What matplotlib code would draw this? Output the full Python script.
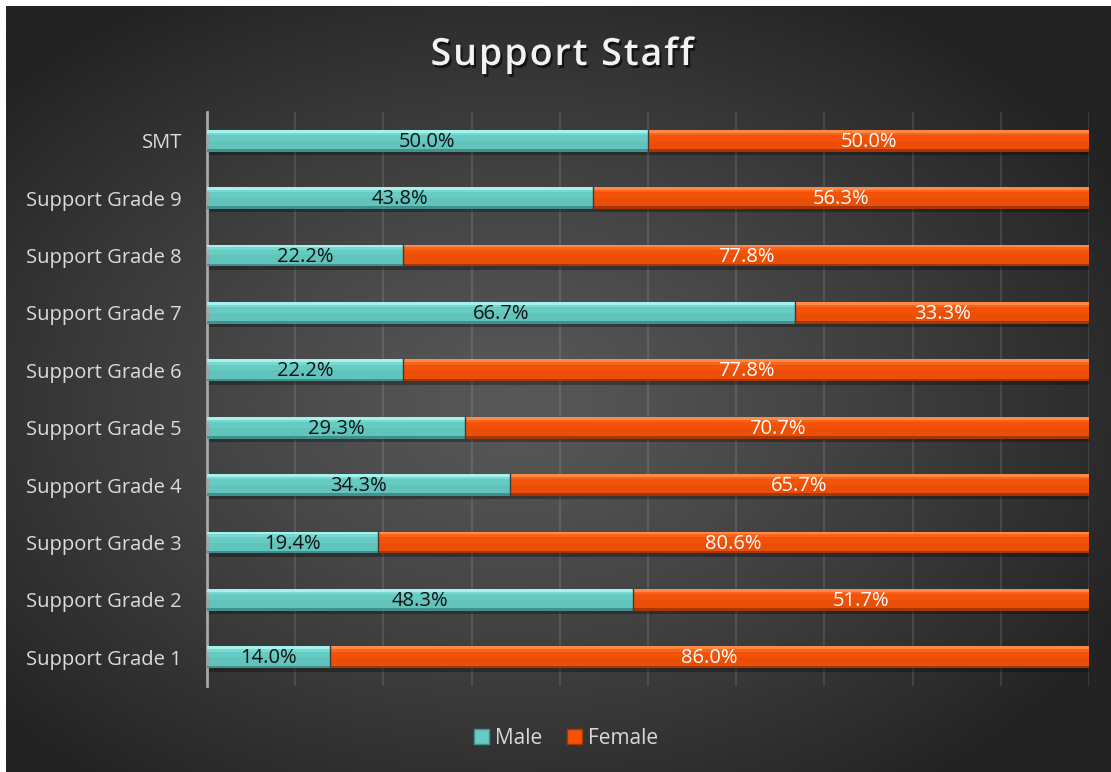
import numpy as np
import matplotlib
matplotlib.use("Agg")
import matplotlib.pyplot as plt
from matplotlib.patches import Rectangle, Patch
import matplotlib.patheffects as pe

# --------------------------
# Data
# --------------------------
categories = ["Support Grade 1", "Support Grade 2", "Support Grade 3", "Support Grade 4",
              "Support Grade 5", "Support Grade 6", "Support Grade 7", "Support Grade 8",
              "Support Grade 9", "SMT"]
male = [14.0, 48.3, 19.4, 34.3, 29.3, 22.2, 66.7, 22.2, 43.8, 50.0]
female = [86.0, 51.7, 80.6, 65.7, 70.7, 77.8, 33.3, 77.8, 56.3, 50.0]
series_names = ["Male", "Female"]
chart_title = "Support Staff"

MALE_C = "#66cbc3"
MALE_HI = "#a3f3ec"
MALE_LO = "#3f918b"
FEM_C = "#f45208"
FEM_HI = "#ff8a45"
FEM_LO = "#a83604"

W, H = 1111, 772
plt.rcParams['font.family'] = ['Open Sans', 'DejaVu Sans']

fig = plt.figure(figsize=(W / 100, H / 100), dpi=100)
fig.patch.set_facecolor("white")

# --------------------------
# Radial gradient background panel
# --------------------------
bg = fig.add_axes([6 / W, 0, (W - 6) / W, (H - 6) / H], zorder=-10)
gx, gy = np.meshgrid(np.linspace(0, 1, 400), np.linspace(0, 1, 300))
r = np.sqrt(((gx - 0.46) / 0.62) ** 2 + ((gy - 0.52) / 0.62) ** 2)
r = np.clip(r, 0, 1)
c_in = np.array([0x58, 0x58, 0x58]) / 255
c_out = np.array([0x23, 0x23, 0x23]) / 255
img = c_in[None, None, :] * (1 - r[..., None] ** 1.2) + c_out[None, None, :] * (r[..., None] ** 1.2)
bg.imshow(img, aspect="auto", extent=[0, 1, 0, 1], interpolation="bilinear")
bg.axis("off")

# --------------------------
# Bar axes
# --------------------------
ax = fig.add_axes([207 / W, (H - 686) / H, 882 / W, 574 / H])
ax.patch.set_alpha(0)
ax.set_xlim(0, 100)
ax.set_ylim(-0.5, len(categories) - 0.5)

for x in np.arange(10, 101, 10):
    ax.axvline(x, color="white", alpha=0.13, lw=1.2, zorder=0)

bh = 0.38
ys = np.arange(len(categories))


def bevel_bar(y, left, width, face, hi, lo):
    # drop shadow
    ax.add_patch(Rectangle((left + 0.1, y - bh / 2 - 0.06), width, bh, color="black",
                           alpha=0.3, lw=0, zorder=1))
    ax.add_patch(Rectangle((left, y - bh / 2), width, bh, color=face, lw=0, zorder=2))
    ax.add_patch(Rectangle((left, y + bh / 2 - 0.05), width, 0.05, color=hi, lw=0, zorder=3))
    ax.add_patch(Rectangle((left, y + bh / 2 - 0.09), width, 0.04, color=hi, alpha=0.35,
                           lw=0, zorder=3))
    ax.add_patch(Rectangle((left, y - bh / 2), width, 0.045, color=lo, lw=0, zorder=3))
    ax.add_patch(Rectangle((left, y - bh / 2 + 0.045), width, bh / 2 - 0.045, color=lo,
                           alpha=0.12, lw=0, zorder=3))


for y, m, f in zip(ys, male, female):
    bevel_bar(y, 0, m, MALE_C, MALE_HI, MALE_LO)
    bevel_bar(y, m, min(f, 100 - m), FEM_C, FEM_HI, FEM_LO)
    ax.plot([m, m], [y - bh / 2, y + bh / 2], color="#3a3a3a", lw=1, zorder=4)
    ax.text(m / 2, y - 0.02, f"{m:.1f}%", ha="center", va="center", fontsize=14.5,
            color="#111111", zorder=5)
    ax.text(m + min(f, 100 - m) / 2, y - 0.02, f"{f:.1f}%", ha="center", va="center",
            fontsize=14.5, color="white", zorder=5)

ax.set_yticks(ys)
ax.set_yticklabels(categories, fontsize=14.5, color="#dcdcdc")
ax.tick_params(axis="y", length=0, pad=18)
ax.set_xticks([])
for s in ["top", "right", "bottom"]:
    ax.spines[s].set_visible(False)
ax.spines["left"].set_color("#a8a8a8")
ax.spines["left"].set_linewidth(2)

# --------------------------
# Title (letter-spaced) and legend
# --------------------------
renderer = fig.canvas.get_renderer()
tkw = dict(fontsize=27, fontweight="semibold", color="#f2f2f2", va="center", ha="left",
           path_effects=[pe.withSimplePatchShadow(offset=(1.5, -2), shadow_rgbFace="black",
                                                  alpha=0.6)])
spacing = 2.0  # extra pixels between letters
widths = []
for i in range(len(chart_title)):
    # advance width of each prefix keeps kerning/spaces correct
    t = fig.text(0, 0, chart_title[:i + 1] + "|", **tkw)
    bar_t = fig.text(0, 0, "|", **tkw)
    widths.append(t.get_window_extent(renderer).width - bar_t.get_window_extent(renderer).width)
    t.remove()
    bar_t.remove()
total = widths[-1] + spacing * (len(chart_title) - 1)
x0 = 562 - total / 2
for i, ch in enumerate(chart_title):
    start = (widths[i - 1] if i > 0 else 0) + spacing * i
    fig.text((x0 + start) / W, 1 - 55 / H, ch, **tkw)

handles = [Patch(facecolor=MALE_C, edgecolor=MALE_LO, lw=1),
           Patch(facecolor=FEM_C, edgecolor=FEM_LO, lw=1)]
leg = fig.legend(handles, series_names, loc="center", bbox_to_anchor=(566 / W, 1 - 738 / H),
                 ncol=2, frameon=False, fontsize=15, handlelength=0.7, handleheight=0.7,
                 handletextpad=0.3, columnspacing=1.2)
for t in leg.get_texts():
    t.set_color("#d9d9d9")

fig.savefig("out.png", dpi=100)
